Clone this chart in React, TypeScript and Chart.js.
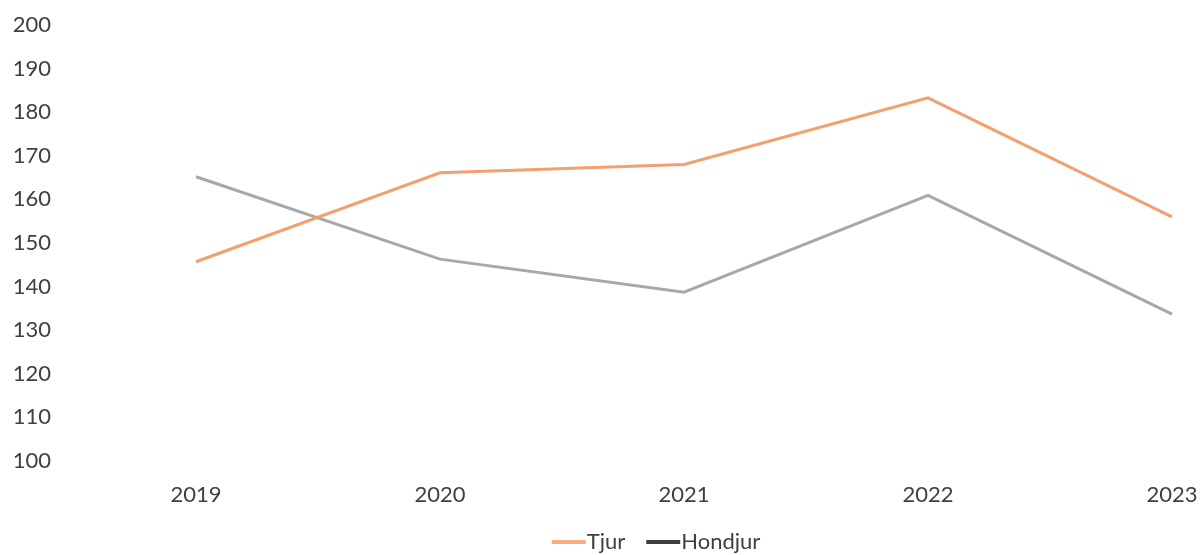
import React, { useEffect, useRef } from "react";
import { Chart, registerables } from "chart.js";

Chart.register(...registerables);

const categories = ["2019", "2020", "2021", "2022", "2023"];
const tjurValues = [145.7, 166.1, 168.0, 183.3, 156.0];
const hondjurValues = [165.2, 146.3, 138.7, 160.9, 133.7];
const seriesNames = ["Tjur", "Hondjur"];

const FONT = "Lato, 'Open Sans', sans-serif";
const TEXT_COLOR = "#404040";
const LEGEND_BOX = 22;

function makeLegendLine(color: string) {
  // image twice the legend box width, line drawn in its right 34px
  const c = document.createElement("canvas");
  c.width = LEGEND_BOX * 2;
  c.height = 4;
  const ctx = c.getContext("2d");
  if (ctx) {
    ctx.fillStyle = color;
    ctx.fillRect(c.width - 35, 0, 34, 4);
  }
  return c;
}

export default function App() {
  const ref = useRef<HTMLCanvasElement | null>(null);

  useEffect(() => {
    if (!ref.current) return;
    const legendImgs = [makeLegendLine("#F7AE7C"), makeLegendLine("#404040")];
    const chart = new Chart(ref.current, {
      type: "line",
      data: {
        labels: categories,
        datasets: [
          {
            label: seriesNames[0],
            data: tjurValues,
            borderColor: "#F2A06E",
            backgroundColor: "#F2A06E",
            borderWidth: 3,
            pointRadius: 0,
            tension: 0,
          },
          {
            label: seriesNames[1],
            data: hondjurValues,
            borderColor: "#A8A8A8",
            backgroundColor: "#A8A8A8",
            borderWidth: 3,
            pointRadius: 0,
            tension: 0,
          },
        ],
      },
      options: {
        animation: false,
        responsive: true,
        maintainAspectRatio: false,
        layout: { padding: { left: 12, right: -101, top: 25, bottom: -8 } },
        scales: {
          x: {
            offset: false,
            grid: { display: false, drawTicks: false, tickLength: 0 },
            border: { display: false },
            ticks: {
              color: TEXT_COLOR,
              font: { family: FONT, size: 22 },
              padding: 21,
              autoSkip: false,
              maxRotation: 0,
            },
            afterFit: (scale: any) => {
              scale.height = 47;
              scale.paddingLeft = 0;
              scale.paddingRight = 29;
            },
          },
          y: {
            min: 100,
            max: 200,
            grid: { display: false, drawTicks: false, tickLength: 0 },
            border: { display: false },
            ticks: {
              stepSize: 10,
              color: TEXT_COLOR,
              font: { family: FONT, size: 22 },
              padding: 145,
              crossAlign: "near",
            },
            afterFit: (scale: any) => {
              scale.width = 184;
              scale.paddingTop = 0;
              scale.paddingBottom = 0;
            },
          },
        },
        plugins: {
          tooltip: { enabled: false },
          legend: {
            position: "bottom",
            labels: {
              usePointStyle: true,
              pointStyleWidth: LEGEND_BOX,
              padding: 23,
              color: TEXT_COLOR,
              font: { family: FONT, size: 22 },
              generateLabels: (ch: any) =>
                ch.data.datasets.map((ds: any, i: number) => ({
                  text: ds.label,
                  fillStyle: "transparent",
                  strokeStyle: "transparent",
                  lineWidth: 0,
                  pointStyle: legendImgs[i],
                  hidden: false,
                  datasetIndex: i,
                  fontColor: TEXT_COLOR,
                })),
            },
          },
        },
      },
    });
    return () => chart.destroy();
  }, []);

  return (
    <div style={{ position: "fixed", left: 0, top: 0, width: 1201, height: 555, background: "#fff" }}>
      <canvas ref={ref} style={{ display: "block" }} />
    </div>
  );
}
